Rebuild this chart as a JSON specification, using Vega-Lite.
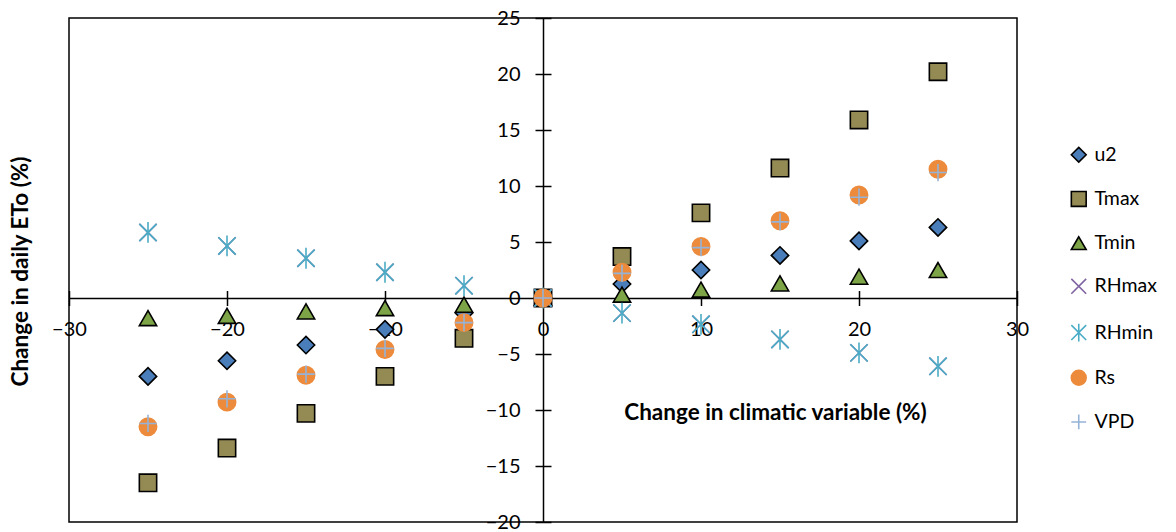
{
  "$schema": "https://vega.github.io/schema/vega-lite/v6.json",
  "autosize": {"type": "none"},
  "width": 948,
  "height": 504,
  "padding": {"left": 69, "top": 18, "right": 159, "bottom": 10},
  "background": "white",
  "config": {
    "view": {"stroke": "#000000", "strokeWidth": 1.5},
    "font": "Lato",
    "axis": {"labelFont": "Lato", "titleFont": "Lato", "labelColor": "#000000", "titleColor": "#000000", "domainColor": "#000000", "tickColor": "#000000", "grid": false, "labelFlush": false, "labelOverlap": false, "labelBound": false}
  },
  "data": {
    "values": [
      {"var": "u2", "x": -25, "y": -7.0}, {"var": "u2", "x": -20, "y": -5.6}, {"var": "u2", "x": -15, "y": -4.2}, {"var": "u2", "x": -10, "y": -2.8}, {"var": "u2", "x": -5, "y": -1.35}, {"var": "u2", "x": 0, "y": 0}, {"var": "u2", "x": 5, "y": 1.25}, {"var": "u2", "x": 10, "y": 2.5}, {"var": "u2", "x": 15, "y": 3.8}, {"var": "u2", "x": 20, "y": 5.1}, {"var": "u2", "x": 25, "y": 6.3},
      {"var": "Tmax", "x": -25, "y": -16.5}, {"var": "Tmax", "x": -20, "y": -13.4}, {"var": "Tmax", "x": -15, "y": -10.3}, {"var": "Tmax", "x": -10, "y": -7.0}, {"var": "Tmax", "x": -5, "y": -3.6}, {"var": "Tmax", "x": 0, "y": 0}, {"var": "Tmax", "x": 5, "y": 3.7}, {"var": "Tmax", "x": 10, "y": 7.6}, {"var": "Tmax", "x": 15, "y": 11.6}, {"var": "Tmax", "x": 20, "y": 15.9}, {"var": "Tmax", "x": 25, "y": 20.2},
      {"var": "Tmin", "x": -25, "y": -1.8}, {"var": "Tmin", "x": -20, "y": -1.6}, {"var": "Tmin", "x": -15, "y": -1.2}, {"var": "Tmin", "x": -10, "y": -0.9}, {"var": "Tmin", "x": -5, "y": -0.6}, {"var": "Tmin", "x": 0, "y": 0}, {"var": "Tmin", "x": 5, "y": 0.3}, {"var": "Tmin", "x": 10, "y": 0.75}, {"var": "Tmin", "x": 15, "y": 1.3}, {"var": "Tmin", "x": 20, "y": 1.9}, {"var": "Tmin", "x": 25, "y": 2.5},
      {"var": "RHmax", "x": -25, "y": 5.85}, {"var": "RHmax", "x": -20, "y": 4.65}, {"var": "RHmax", "x": -15, "y": 3.55}, {"var": "RHmax", "x": -10, "y": 2.3}, {"var": "RHmax", "x": -5, "y": 1.1}, {"var": "RHmax", "x": 0, "y": 0}, {"var": "RHmax", "x": 5, "y": -1.35}, {"var": "RHmax", "x": 10, "y": -2.35}, {"var": "RHmax", "x": 15, "y": -3.7}, {"var": "RHmax", "x": 20, "y": -4.9}, {"var": "RHmax", "x": 25, "y": -6.1},
      {"var": "RHmin", "x": -25, "y": 5.85}, {"var": "RHmin", "x": -20, "y": 4.65}, {"var": "RHmin", "x": -15, "y": 3.55}, {"var": "RHmin", "x": -10, "y": 2.3}, {"var": "RHmin", "x": -5, "y": 1.1}, {"var": "RHmin", "x": 0, "y": 0}, {"var": "RHmin", "x": 5, "y": -1.35}, {"var": "RHmin", "x": 10, "y": -2.35}, {"var": "RHmin", "x": 15, "y": -3.7}, {"var": "RHmin", "x": 20, "y": -4.9}, {"var": "RHmin", "x": 25, "y": -6.1},
      {"var": "Rs", "x": -25, "y": -11.5}, {"var": "Rs", "x": -20, "y": -9.3}, {"var": "Rs", "x": -15, "y": -6.9}, {"var": "Rs", "x": -10, "y": -4.6}, {"var": "Rs", "x": -5, "y": -2.2}, {"var": "Rs", "x": 0, "y": 0}, {"var": "Rs", "x": 5, "y": 2.3}, {"var": "Rs", "x": 10, "y": 4.6}, {"var": "Rs", "x": 15, "y": 6.9}, {"var": "Rs", "x": 20, "y": 9.2}, {"var": "Rs", "x": 25, "y": 11.5},
      {"var": "VPD", "x": -25, "y": -11.2}, {"var": "VPD", "x": -20, "y": -9.0}, {"var": "VPD", "x": -15, "y": -6.8}, {"var": "VPD", "x": -10, "y": -4.5}, {"var": "VPD", "x": -5, "y": -2.2}, {"var": "VPD", "x": 0, "y": 0}, {"var": "VPD", "x": 5, "y": 2.2}, {"var": "VPD", "x": 10, "y": 4.5}, {"var": "VPD", "x": 15, "y": 6.8}, {"var": "VPD", "x": 20, "y": 9.0}, {"var": "VPD", "x": 25, "y": 11.2}
    ]
  },
  "resolve": {"axis": {"x": "independent", "y": "independent"}},
  "layer": [
    {
      "mark": {"type": "point", "filled": false, "size": 300, "strokeWidth": 1.6, "opacity": 1},
      "encoding": {
        "x": {"field": "x", "type": "quantitative", "scale": {"domain": [-30, 30], "nice": false, "zero": false},
          "axis": {"orient": "bottom", "offset": {"expr": "scale('y', 0) - height"}, "values": [-30, -20, -10, 0, 10, 20, 30], "tickSize": 7.5, "tickWidth": 1.5, "domainWidth": 1.5, "labelPadding": 14, "labelFontSize": 20, "labelAngle": 0,
            "title": "Change in climatic variable (%)", "titleFontSize": 22.5, "titleFontWeight": "bold", "titleX": 706, "titleY": 114, "titleAlign": "center", "titleBaseline": "middle", "titleAngle": 0}},
        "y": {"field": "y", "type": "quantitative", "scale": {"domain": [-20, 25], "nice": false, "zero": false},
          "axis": {"orient": "left", "offset": {"expr": "-scale('x', 0)"}, "values": [-20, -15, -10, -5, 0, 5, 10, 15, 20, 25], "tickSize": 8, "tickWidth": 1.5, "domainWidth": 1.5, "labelPadding": 15, "labelFontSize": 20,
            "title": "Change in daily ETo (%)", "titleFontSize": 22.5, "titleFontWeight": "bold", "titleX": -523, "titleY": 253, "titleAlign": "center", "titleBaseline": "middle", "titleAngle": -90}},
        "shape": {"field": "var", "type": "nominal", "title": null,
          "scale": {"domain": ["u2", "Tmax", "Tmin", "RHmax", "RHmin", "Rs", "VPD"],
            "range": ["diamond", "square", "triangle-up", "M-1,-1L1,1M-1,1L1,-1", "M-1,-1L1,1M-1,1L1,-1M0,-1.2L0,1.2", "circle", "M-1,0L1,0M0,-1L0,1"]},
          "legend": {"orient": "none", "legendX": 1000, "legendY": 127, "padding": 0, "offset": 0, "symbolSize": 220, "labelFontSize": 19.5, "labelFont": "Lato", "labelColor": "#000000", "labelOffset": 6, "rowPadding": 22.2, "symbolStrokeWidth": 1.6, "symbolOpacity": 1}},
        "fill": {"field": "var", "type": "nominal", "title": null,
          "scale": {"domain": ["u2", "Tmax", "Tmin", "RHmax", "RHmin", "Rs", "VPD"],
            "range": ["#4A7EBB", "#948A54", "#7DA446", "transparent", "transparent", "#ED8B3C", "transparent"]}},
        "stroke": {"field": "var", "type": "nominal", "title": null,
          "scale": {"domain": ["u2", "Tmax", "Tmin", "RHmax", "RHmin", "Rs", "VPD"],
            "range": ["#000000", "#000000", "#000000", "#8064A2", "#4BACC6", "#ED8B3C", "#95B3D7"]}}
      }
    },
    {
      "mark": {"type": "point", "opacity": 0},
      "encoding": {
        "x": {"field": "x", "type": "quantitative",
          "axis": {"orient": "bottom", "offset": {"expr": "scale('y', 0) - height"}, "values": [-30, -20, -10, 0, 10, 20, 30], "tickSize": -7.5, "tickWidth": 1.5, "domain": false, "labels": false, "title": null}},
        "y": {"field": "y", "type": "quantitative",
          "axis": {"orient": "left", "offset": {"expr": "-scale('x', 0)"}, "values": [-20, -15, -10, -5, 0, 5, 10, 15, 20, 25], "tickSize": -8, "tickWidth": 1.5, "domain": false, "labels": false, "title": null}}
      }
    }
  ]
}
